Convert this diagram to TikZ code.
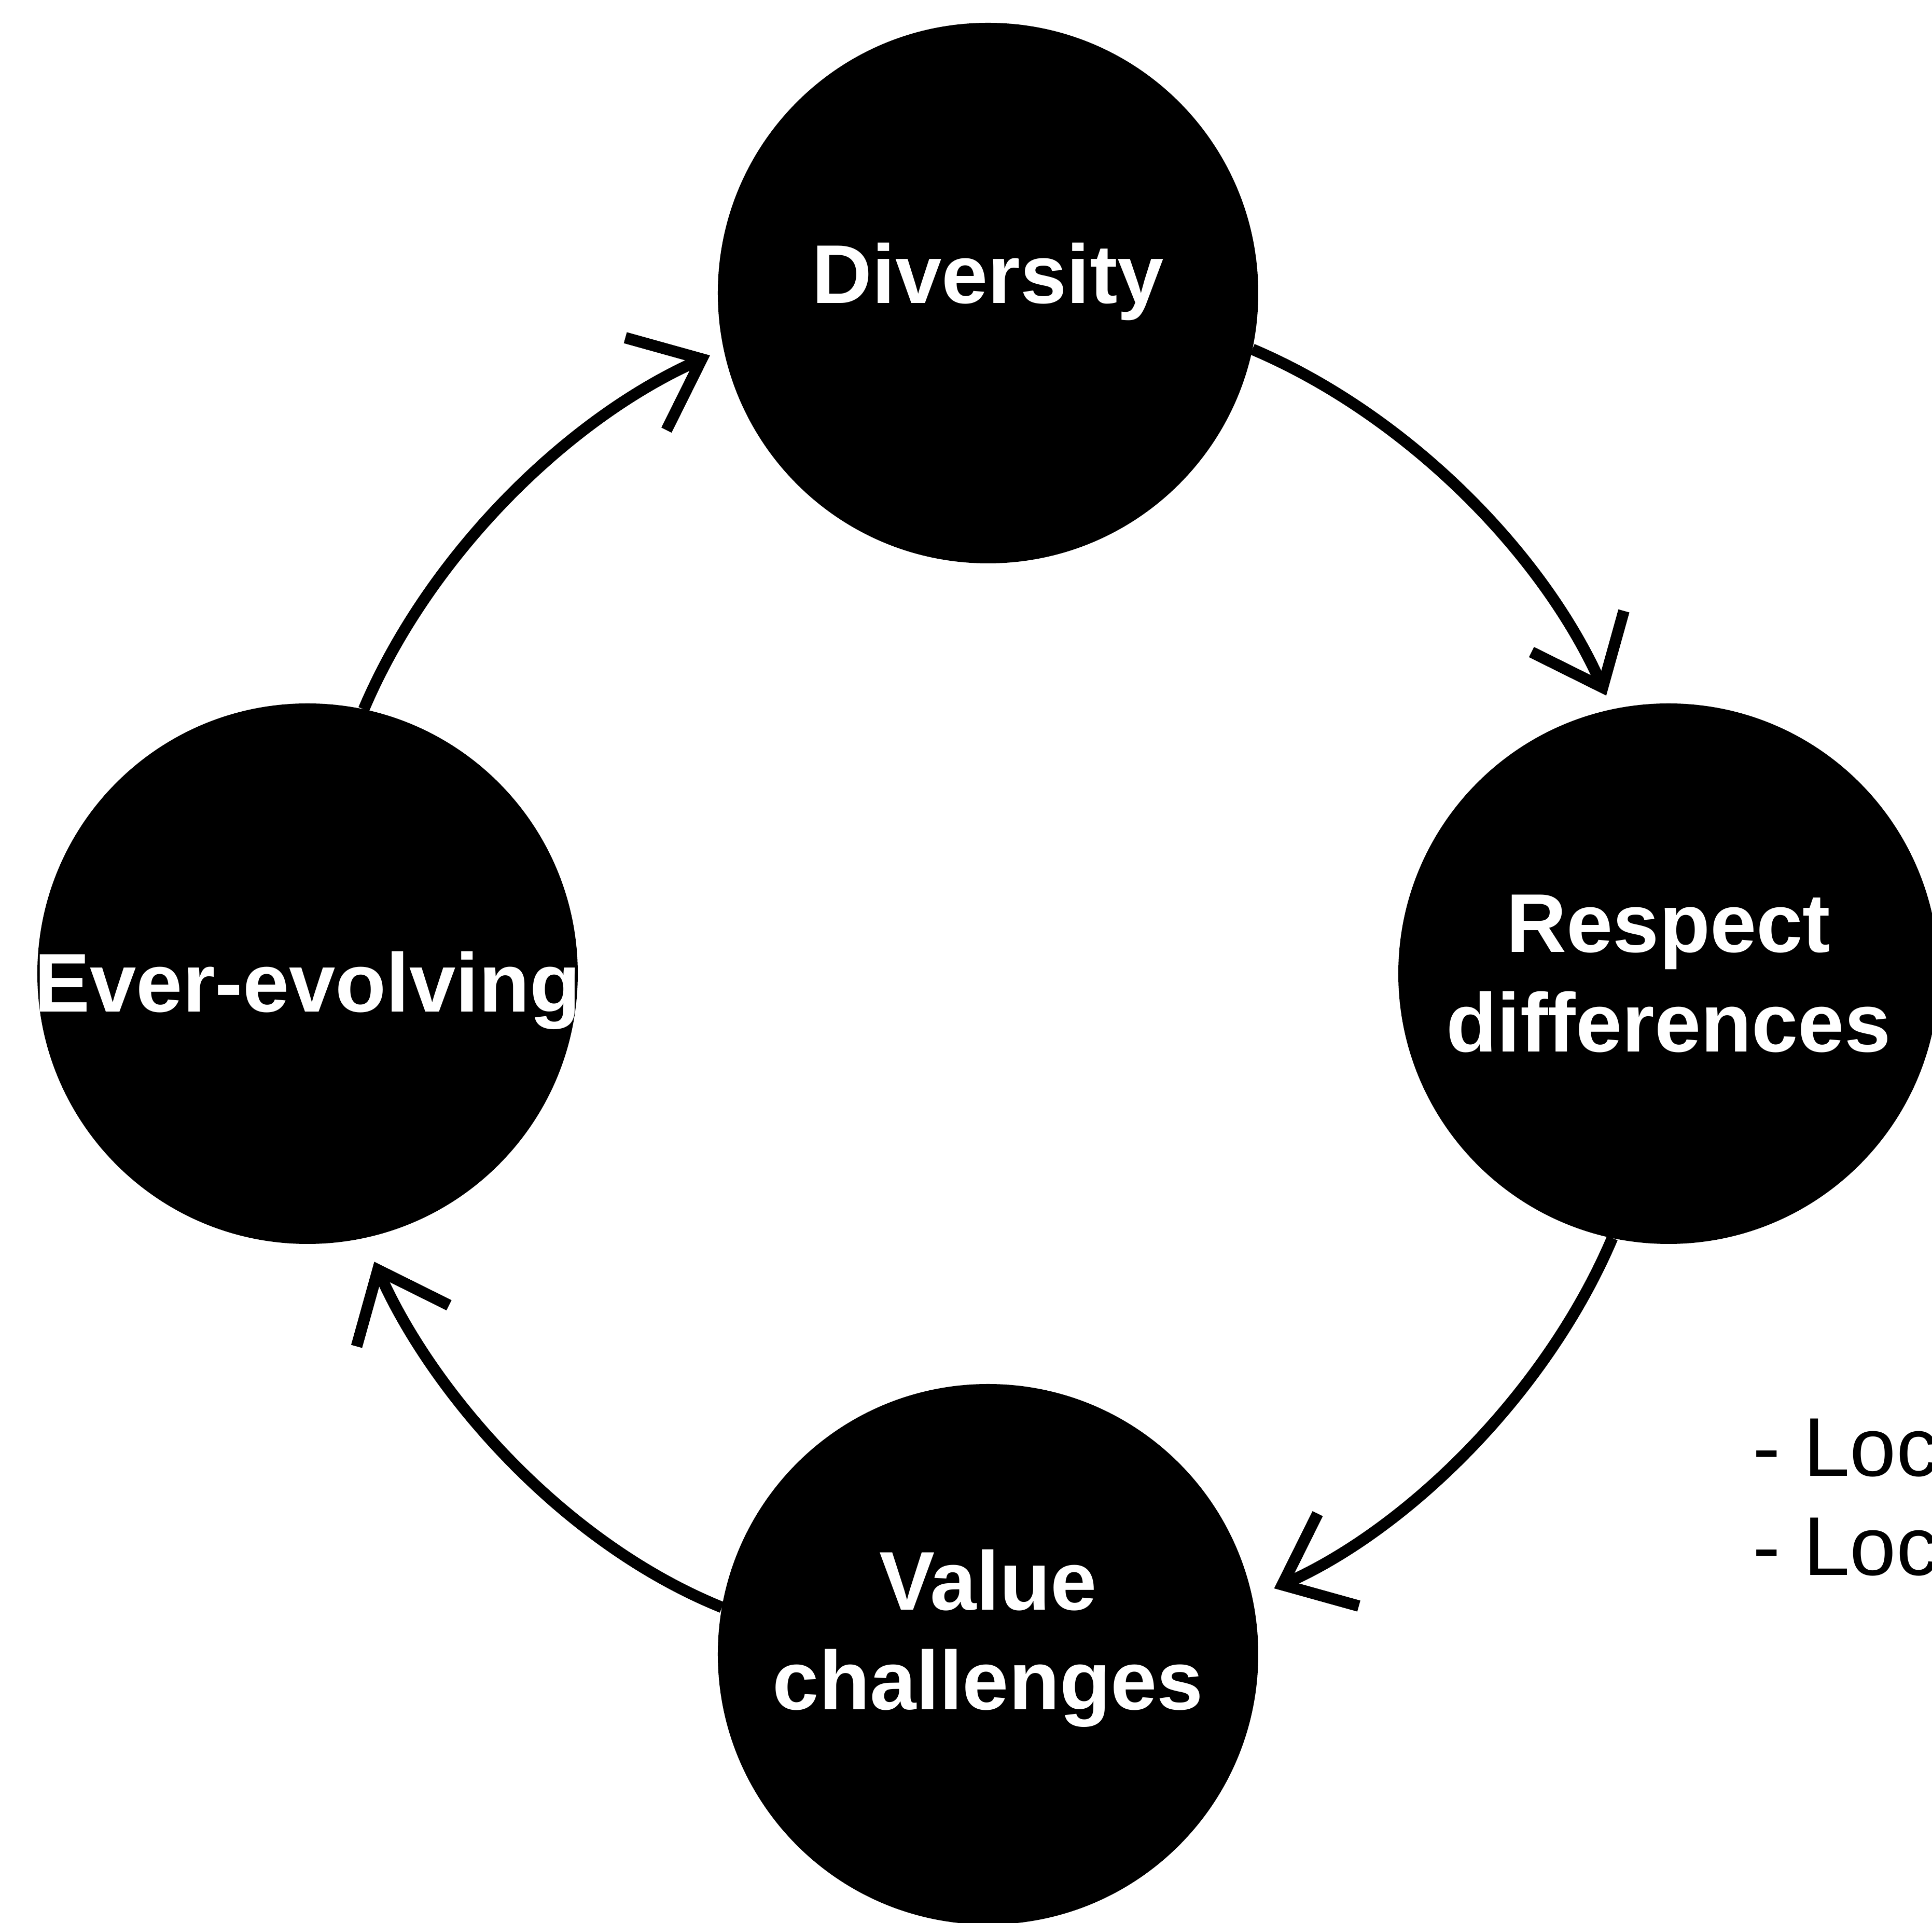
\documentclass[tikz,border=0pt]{standalone}
\usepackage{fontspec}
\setmainfont{Liberation Sans}
\usetikzlibrary{arrows.meta}
\newcommand{\stagefont}{\fontsize{45.7}{54.6}\selectfont\bfseries}
\newcommand{\notefont}{\fontsize{45.7}{54.6}\selectfont}

\begin{document}
\begin{tikzpicture}[
    stage/.style={circle, fill=black, text=white, minimum size=10.42cm, inner sep=-1cm, outer sep=0pt, align=center, font=\stagefont},
    cyclearrow/.style={-{Straight Barb[length=1.18cm, width=1.95cm]}, line width=0.22cm, shorten >=0.29cm, looseness=0.85},
    note/.style={anchor=base west, align=left, inner sep=0pt, font=\notefont}]

    \useasboundingbox (-19.05,-18.30) rectangle (18.20,18.77);

    \node [stage, text depth=0.78cm] (div) at (90:13.12) {Diversity};
    \node [stage] (res) at (0:13.12) {Respect\\differences};
    \node [stage, text depth=0.96cm] (val) at (-90:13.12) {Value\\challenges};
    \node [stage, text height=1.81cm] (eve) at (180:13.12) {Ever-evolving};

    \draw [cyclearrow] (div.-12) to[out=-23, in=114] (res.102);
    \draw [cyclearrow, shorten >=0.46cm] (res.-102) to[out=-113, in=24] (val.12);
    \draw [cyclearrow, shorten >=0.5cm] (val.170) to[out=158, in=-66] (eve.-78);
    \draw [cyclearrow] (eve.78) to[out=67, in=-156] (div.-168);

    \node [note] (loc) at (14.74,-11.60) {- Loc\\- Loc};

\end{tikzpicture}
\end{document}
